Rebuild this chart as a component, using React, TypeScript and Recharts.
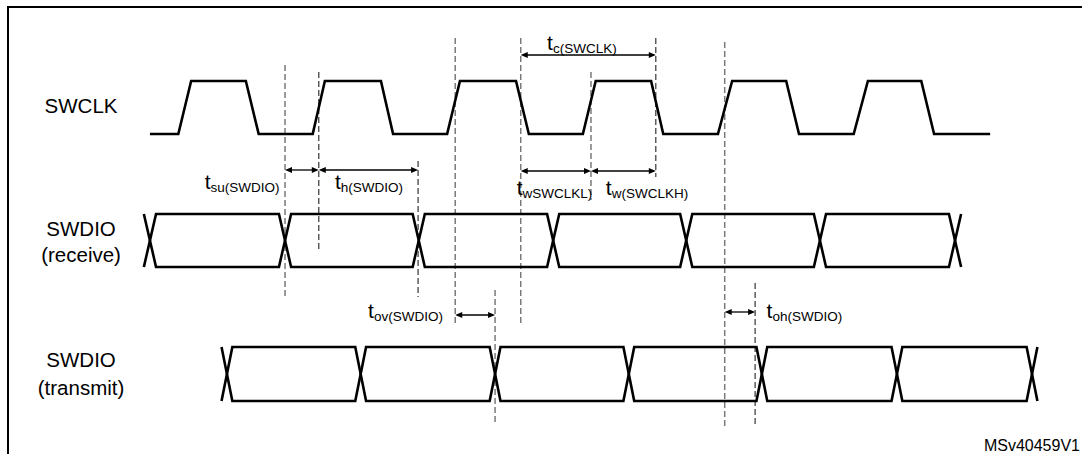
import React from 'react';
import { ComposedChart, Line, XAxis, YAxis, ReferenceLine, ReferenceDot } from 'recharts';

// ---------- chart size & axes ----------
const W = 1082;
const H = 454;
const TIME_DOMAIN: [number, number] = [-111, 690]; // ns (clock period ~100 ns)
const ROW_DOMAIN: [number, number] = [0, 454];

// ---------- data ----------
// SWCLK waveform: time (ns) and logic level
const swclkTime = [0, 21, 30.5, 71, 80.5, 120.5, 129.5, 171, 180, 220, 229.5, 271, 280.5, 320.5, 330, 371, 380, 420.5, 431, 471, 480.5, 521, 531.5, 571, 580.5, 622];
const swclkLevel = [0, 0, 1, 1, 0, 0, 1, 1, 0, 0, 1, 1, 0, 0, 1, 1, 0, 0, 1, 1, 0, 0, 1, 1, 0, 0];

// SWDIO bus transitions (ns)
const rxCrossings = [0, 100, 199, 298.5, 397, 496, 596];
const txCrossings = [57, 156, 255.5, 354.5, 453, 553, 653];
const rxTransition = 4.5; // half transition time
const txTransition = 4;

// Timing reference markers (ns)
const markerTimes = [100, 125, 198.5, 226, 274.5, 326.5, 374.5, 425.5, 448, 255.5];
const markerKinds = ['g', 'k', 'k', 'g', 'g', 'g', 'k', 'g', 'k', 'g'];

// Timing parameters: name (subscript), start, end
const paramNames = ['c(SWCLK)', 'su(SWDIO)', 'h(SWDIO)', 'wSWCLKL)', 'w(SWCLKH)', 'ov(SWDIO)', 'oh(SWDIO)'];
const paramStart = [274.5, 100, 125, 274.5, 326.5, 226, 425.5];
const paramEnd = [374.5, 125, 198.5, 326.5, 374.5, 255.5, 448];

const signalNames = [['SWCLK'], ['SWDIO', '(receive)'], ['SWDIO', '(transmit)']];
const footnote = 'MSv40459V1';

// ---------- layout (row positions in px, styles) ----------
const rows = {
  swclk: { hi: 81, lo: 134 },
  rx: { hi: 214, lo: 267 },
  tx: { hi: 347, lo: 401 },
};
const markerSpan = [
  [65, 299], [72, 250], [161, 297], [38, 325], [38, 323],
  [72, 200], [38, 177], [42, 427], [283, 426], [290, 425],
];
const arrowY = [55, 170, 170, 171, 171, 315, 312];
const paramLabelPos = [
  { t: 294, y: 50 }, { t: 40.5, y: 189 }, { t: 137, y: 189 }, { t: 271.5, y: 195 },
  { t: 337.5, y: 195 }, { t: 161.5, y: 318 }, { t: 456.5, y: 318 },
];
const signalLabelPos = [
  { t: -51, y: [113] },
  { t: -51, y: [236, 262] },
  { t: -51, y: [367, 395] },
];
const FONT = '"Liberation Sans", Arial, sans-serif';

const swclkData = swclkTime.map((t, i) => ({ t, y: swclkLevel[i] ? rows.swclk.hi : rows.swclk.lo }));

function busPaths(cross: number[], w: number, hi: number, lo: number) {
  const a: { t: number; y: number }[] = [];
  const b: { t: number; y: number }[] = [];
  cross.forEach((c, i) => {
    const before = i % 2 === 0 ? lo : hi;
    const after = i % 2 === 0 ? hi : lo;
    a.push({ t: c - w, y: before }, { t: c + w, y: after });
    b.push({ t: c - w, y: after }, { t: c + w, y: before });
  });
  return [a, b];
}
const rxPaths = busPaths(rxCrossings, rxTransition, rows.rx.hi, rows.rx.lo);
const txPaths = busPaths(txCrossings, txTransition, rows.tx.hi, rows.tx.lo);

const ArrowShape = (p: any) => {
  const { x1, y1, x2, y2 } = p;
  const L = 7;
  const hw = 3;
  return (
    <g>
      <line x1={x1 + 2} y1={y1} x2={x2 - 2} y2={y2} stroke="#000" strokeWidth={1.3} />
      <polygon points={`${x1},${y1} ${x1 + L},${y1 - hw} ${x1 + L},${y1 + hw}`} fill="#000" />
      <polygon points={`${x2},${y2} ${x2 - L},${y2 - hw} ${x2 - L},${y2 + hw}`} fill="#000" />
    </g>
  );
};

const lineProps = {
  type: 'linear' as const,
  dataKey: 'y',
  stroke: '#000',
  strokeWidth: 2.6,
  dot: false,
  activeDot: false,
  isAnimationActive: false,
  strokeLinejoin: 'miter' as const,
};

export default function App() {
  return (
    <div style={{ position: 'absolute', left: 0, top: 0, width: W, height: H, background: '#fff' }}>
      <div style={{ position: 'absolute', left: 7, top: 6, width: W - 7, height: H - 6, borderTop: '2.5px solid #000', borderLeft: '2px solid #000', boxSizing: 'border-box' }} />
      <div style={{ position: 'absolute', left: 0, top: 0 }}>
        <ComposedChart width={W} height={H} margin={{ top: 0, right: 0, bottom: 0, left: 0 }}>
          <XAxis type="number" dataKey="t" domain={TIME_DOMAIN} allowDataOverflow hide />
          <YAxis type="number" domain={ROW_DOMAIN} reversed allowDataOverflow hide />

          {markerTimes.map((t, i) => (
            <ReferenceLine
              key={'m' + i}
              segment={[{ x: t, y: markerSpan[i][0] }, { x: t, y: markerSpan[i][1] }]}
              stroke={markerKinds[i] === 'g' ? '#7a7a7a' : '#222'}
              strokeWidth={markerKinds[i] === 'g' ? 1.5 : 1.1}
              strokeDasharray="6 3"
              ifOverflow="visible"
            />
          ))}

          <Line data={swclkData} {...lineProps} />
          <Line data={rxPaths[0]} {...lineProps} />
          <Line data={rxPaths[1]} {...lineProps} />
          <Line data={txPaths[0]} {...lineProps} />
          <Line data={txPaths[1]} {...lineProps} />

          {paramNames.map((n, i) => (
            <ReferenceLine
              key={'a' + i}
              segment={[{ x: paramStart[i], y: arrowY[i] }, { x: paramEnd[i], y: arrowY[i] }]}
              ifOverflow="visible"
              shape={ArrowShape}
            />
          ))}

          {paramNames.map((n, i) => (
            <ReferenceDot
              key={'l' + i}
              x={paramLabelPos[i].t}
              y={paramLabelPos[i].y}
              r={1}
              ifOverflow="visible"
              shape={(p: any) => (
                <text x={p.cx} y={p.cy} fontFamily={FONT} fill="#000">
                  <tspan fontSize={21}>t</tspan>
                  <tspan fontSize={13.5} dy={3}>{n}</tspan>
                </text>
              )}
            />
          ))}

          {signalNames.map((lines, i) => (
            <ReferenceDot
              key={'s' + i}
              x={signalLabelPos[i].t}
              y={signalLabelPos[i].y[0]}
              r={1}
              ifOverflow="visible"
              shape={(p: any) => (
                <text fontFamily={FONT} fontSize={20.5} fill="#000" textAnchor="middle">
                  {lines.map((s, j) => (
                    <tspan key={j} x={p.cx} y={p.cy + (signalLabelPos[i].y[j] - signalLabelPos[i].y[0])}>{s}</tspan>
                  ))}
                </text>
              )}
            />
          ))}

          <ReferenceDot
            x={688.5}
            y={451}
            r={1}
            ifOverflow="visible"
            shape={(p: any) => (
              <text x={p.cx} y={p.cy} fontFamily={FONT} fontSize={16} fill="#000" textAnchor="end">{footnote}</text>
            )}
          />
        </ComposedChart>
      </div>
    </div>
  );
}
